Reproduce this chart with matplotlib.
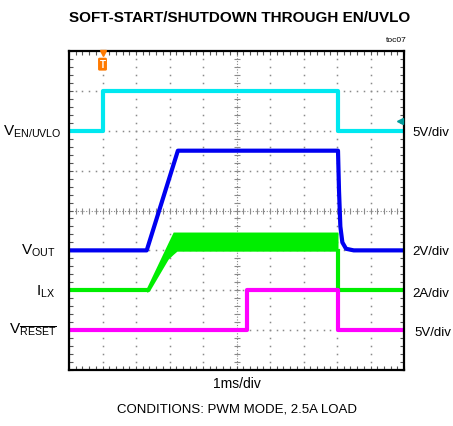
import numpy as np
import matplotlib
matplotlib.use('Agg')
from matplotlib import pyplot as plt

plt.rcParams['font.family'] = ['Liberation Sans Narrow', 'Liberation Sans', 'DejaVu Sans']
plt.rcParams['mathtext.fontset'] = 'custom'
plt.rcParams['mathtext.rm'] = 'Liberation Sans'
plt.rcParams['mathtext.it'] = 'Liberation Sans'

# scope traces, x in ms (1 ms/div), y in screen divisions (0 = bottom)
en_t = [0.0, 1.0, 1.0, 8.03, 8.03, 10.0]
en_v = [6.0, 6.0, 7.0, 7.0, 6.0, 6.0]

vout_t = [0.0, 2.32, 3.25, 8.03, 8.06, 8.1, 8.16, 8.27, 8.5, 10.0]
vout_v = [3.0, 3.0, 5.5, 5.5, 4.5, 3.6, 3.2, 3.04, 3.0, 3.0]

# inductor current: idle level, switching band while running, idle again
ilx_t = [0.0, 2.32, np.nan, 8.03, 8.03, 10.0]
ilx_v = [2.0, 2.0, np.nan, 2.98, 2.0, 2.0]
ilx_band_t = [2.32, 2.4, 2.96, 3.11, 3.22, 8.03]
ilx_band_top = [2.07, 2.21, 3.2, 3.46, 3.46, 3.46]
ilx_band_bot = [1.95, 1.98, 2.78, 2.9, 2.98, 2.98]

reset_t = [0.0, 5.31, 5.31, 8.03, 8.03, 10.0]
reset_v = [1.0, 1.0, 2.0, 2.0, 1.0, 1.0]

left_labels = [r'V$_{\mathregular{EN/UVLO}}$', r'V$_{\mathregular{OUT}}$',
               r'I$_{\mathregular{LX}}$', r'V$_{\overline{\mathregular{RESET}}}$']
left_pos = [(62, 132), (56, 251), (55, 292), (57, 330)]
right_labels = ['5V/div', '2V/div', '2A/div', '5V/div']
right_pos = [(412, 133), (412, 252), (412, 294), (414, 333)]

W, H = 453, 427


def px(x, y):
    return x / W, 1 - y / H


fig = plt.figure(figsize=(W / 100, H / 100), dpi=100)
ax = fig.add_axes([69 / W, 1 - 371 / H, 335 / W, 319 / H])
ax.set_xlim(0, 10)
ax.set_ylim(0, 8)

# grid: dotted lines, a dot every 1/5 division
fine_x = np.arange(0, 10.01, 0.2)
fine_y = np.arange(0, 8.01, 0.2)
for gx in range(1, 10):
    if gx != 5:
        ax.plot([gx] * len(fine_y), fine_y, ls='none', marker='s', ms=1.1,
                mec='none', mfc='#8a8a8a', zorder=1)
for gy in range(1, 8):
    if gy != 4:
        ax.plot(fine_x, [gy] * len(fine_x), ls='none', marker='s', ms=1.1,
                mec='none', mfc='#8a8a8a', zorder=1)
# center crosshair with small ticks
ax.axhline(4, color='#8a8a8a', lw=0.8, ls=(0, (1, 1.5)), zorder=1)
ax.axvline(5, color='#8a8a8a', lw=0.8, ls=(0, (1, 1.5)), zorder=1)
ax.plot(fine_x, [4] * len(fine_x), ls='none', marker='|', ms=4, mew=0.8,
        color='#8a8a8a', zorder=1)
ax.plot([5] * len(fine_y), fine_y, ls='none', marker='_', ms=4, mew=0.8,
        color='#8a8a8a', zorder=1)

# traces
ax.plot(en_t, en_v, color='#00E8F0', lw=3.0, zorder=3)
ax.fill_between(ilx_band_t, ilx_band_bot, ilx_band_top, color='#00EE00',
                lw=0, zorder=3)
ax.plot(ilx_t, ilx_v, color='#00EE00', lw=3.0, zorder=3)
ax.plot(vout_t, vout_v, color='#0000F0', lw=3.0, zorder=4)
ax.plot(reset_t, reset_v, color='#FF00FF', lw=3.0, zorder=3)

# frame ticks
ax.set_xticks(np.arange(0, 10.01, 1))
ax.set_yticks(np.arange(0, 8.01, 1))
ax.set_xticks(fine_x, minor=True)
ax.set_yticks(fine_y, minor=True)
ax.tick_params(which='both', direction='in', top=True, right=True,
               labelbottom=False, labelleft=False, length=3, width=0.8,
               color='#555555')
for s in ax.spines.values():
    s.set_linewidth(1.6)
    s.set_zorder(5)

# trigger marker and ch1 level marker
ax.plot([1.0], [7.96], marker='v', ms=5, color='#FF7A00', clip_on=False, zorder=6)
ax.text(1.0, 7.67, 'T', ha='center', va='center', fontsize=7, color='white',
        fontweight='bold', zorder=6,
        bbox=dict(boxstyle='round,pad=0.15', fc='#FF7A00', ec='none'))
ax.plot([9.87], [6.25], marker='<', ms=4, color='#009A9A', zorder=6)

# texts
fig.text(*px(240, 18), 'SOFT-START/SHUTDOWN THROUGH EN/UVLO', ha='center',
         va='center', fontsize=11, fontweight='bold')
fig.text(*px(396, 41), 'toc07', ha='center', va='center', fontsize=6)
for lab, (x, y) in zip(left_labels, left_pos):
    fig.text(*px(x, y), lab, ha='right', va='center', fontsize=11)
for lab, (x, y) in zip(right_labels, right_pos):
    fig.text(*px(x, y), lab, ha='left', va='center', fontsize=9.5)
fig.text(*px(237, 384), '1ms/div', ha='center', va='center', fontsize=10)
fig.text(*px(237, 410), 'CONDITIONS: PWM MODE, 2.5A LOAD', ha='center',
         va='center', fontsize=9.5)

fig.savefig('out.png', dpi=100)
